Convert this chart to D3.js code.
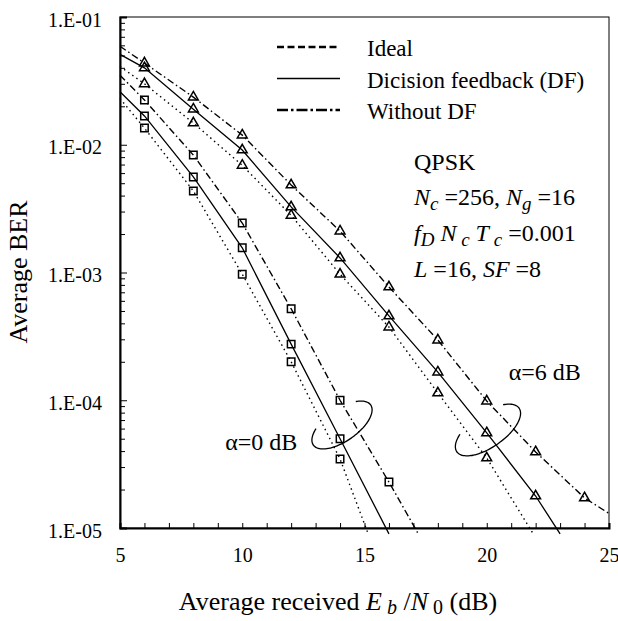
<!DOCTYPE html>
<meta charset="utf-8">
<script src="https://d3js.org/d3.v7.min.js"></script>
<style>
  body { margin: 0; background: #fff; }
  svg text { font-family: "Liberation Serif", "Times New Roman", serif; fill: #000; }
</style>
<div id="chart"></div>
<script>

  // ---- data (BER vs Eb/N0 in dB) ----
  // alpha = 0 dB (square markers)
  var a0IdealX = [5, 6, 8, 10, 12, 14, 15.15];
  var a0IdealY = [0.023, 0.0135, 0.00435, 0.00097, 2.0e-4, 3.47e-5, 9e-6];
  var a0DfX    = [5, 6, 8, 10, 12, 14, 16.0];
  var a0DfY    = [0.026, 0.0168, 0.0056, 0.00156, 2.75e-4, 5.0e-5, 9e-6];
  var a0NoDfX  = [5, 6, 8, 10, 12, 14, 16, 17.2];
  var a0NoDfY  = [0.035, 0.0224, 0.0083, 0.00244, 5.2e-4, 1.0e-4, 2.29e-5, 9e-6];

  // alpha = 6 dB (triangle markers)
  var a6IdealX = [5, 6, 8, 10, 12, 14, 16, 18, 20, 21.9];
  var a6IdealY = [0.041, 0.030, 0.0148, 0.0069, 0.0028, 9.7e-4, 3.74e-4, 1.14e-4, 3.53e-5, 9e-6];
  var a6DfX    = [5, 6, 8, 10, 12, 14, 16, 18, 20, 22, 23.0];
  var a6DfY    = [0.051, 0.040, 0.019, 0.0091, 0.00326, 0.0013, 4.57e-4, 1.66e-4, 5.55e-5, 1.78e-5, 9e-6];
  var a6NoDfX  = [5, 6, 8, 10, 12, 14, 16, 18, 20, 22, 24, 25];
  var a6NoDfY  = [0.059, 0.0436, 0.0236, 0.0119, 0.00484, 0.00211, 7.7e-4, 2.96e-4, 9.86e-5, 3.94e-5, 1.72e-5, 1.3e-5];

  // ticks
  var xTicks = [5, 6, 7, 8, 9, 10, 11, 12, 13, 14, 15, 16, 17, 18, 19, 20, 21, 22, 23, 24, 25];
  var xTickLabels = [5, 10, 15, 20, 25];
  var yMajor = [1e-1, 1e-2, 1e-3, 1e-4, 1e-5];
  var yMajorLabels = ["1.E-01", "1.E-02", "1.E-03", "1.E-04", "1.E-05"];

  var legendNames = ["Ideal", "Dicision feedback (DF)", "Without DF"];

  var serif = "'Liberation Serif', 'Times New Roman', serif";

  // ---- layout ----
  var margin = {top: 17, right: 9, bottom: 93, left: 120},
      width = 618 - margin.left - margin.right,
      height = 621 - margin.top - margin.bottom;

  var svg = d3.select("#chart")
    .append("svg")
      .attr("width", 618)
      .attr("height", 621)
      .style("font-family", serif);

  var g = svg.append("g")
      .attr("transform", "translate(" + margin.left + "," + margin.top + ")");

  var x = d3.scaleLinear().domain([5, 25]).range([0, width]);
  var y = d3.scaleLog().domain([1e-5, 1e-1]).range([height, 0]);

  // frame (top/right thin)
  g.append("rect")
    .attr("width", width)
    .attr("height", height)
    .attr("fill", "none")
    .attr("stroke", "#000")
    .attr("stroke-width", 1);

  // minor y ticks
  var yMinor = [];
  yMajor.slice(1).forEach(function(d) {
    for (var k = 2; k <= 9; k++) yMinor.push(d * k);
  });
  g.append("g")
    .call(d3.axisLeft(y).tickValues(yMinor).tickSize(-5).tickFormat(""))
    .call(function(a) { a.select(".domain").remove(); });

  // major y ticks + labels
  var yAxis = g.append("g")
    .call(d3.axisLeft(y).tickValues(yMajor).tickSize(-7).tickPadding(18)
      .tickFormat(function(d, i) { return yMajorLabels[i]; }))
    .attr("font-family", null);
  yAxis.select(".domain").attr("stroke-width", 2);
  yAxis.selectAll("text")
    .style("font-family", serif)
    .style("font-size", "20px")
    .attr("dy", "0.45em");

  // x axis
  var xAxis = g.append("g")
    .attr("transform", "translate(0," + height + ")")
    .call(d3.axisBottom(x).tickValues(xTicks).tickSize(-5).tickPadding(27)
      .tickFormat(function(d) { return xTickLabels.indexOf(d) >= 0 ? d : ""; }))
    .attr("font-family", null);
  xAxis.select(".domain").attr("stroke-width", 2);
  xAxis.selectAll("text")
    .style("font-family", serif)
    .style("font-size", "20px")
    .attr("dy", "0.35em");

  // ---- curves ----
  var styles = {
    ideal: {dash: "1.5,3.5", w: 1.4},
    df:    {dash: null,      w: 1.3},
    nodf:  {dash: "7,3,1.5,3", w: 1.4}
  };

  var series = [
    {xs: a0IdealX, ys: a0IdealY, type: "ideal", mark: d3.symbolSquare},
    {xs: a0DfX,    ys: a0DfY,    type: "df",    mark: d3.symbolSquare},
    {xs: a0NoDfX,  ys: a0NoDfY,  type: "nodf",  mark: d3.symbolSquare},
    {xs: a6IdealX, ys: a6IdealY, type: "ideal", mark: d3.symbolTriangle},
    {xs: a6DfX,    ys: a6DfY,    type: "df",    mark: d3.symbolTriangle},
    {xs: a6NoDfX,  ys: a6NoDfY,  type: "nodf",  mark: d3.symbolTriangle}
  ];

  var line = d3.line()
    .x(function(d) { return x(d[0]); })
    .y(function(d) { return y(d[1]); });

  series.forEach(function(s) {
    var pts = s.xs.map(function(v, i) { return [v, s.ys[i]]; });
    g.append("path")
      .datum(pts)
      .attr("d", line)
      .attr("fill", "none")
      .attr("stroke", "#000")
      .attr("stroke-width", styles[s.type].w)
      .attr("stroke-dasharray", styles[s.type].dash);

    // markers on the simulated points (not on the line ends)
    var size = s.mark === d3.symbolSquare ? 56 : 42;
    g.selectAll(null)
      .data(pts.slice(1, pts.length - 1))
      .enter()
      .append("path")
        .attr("d", d3.symbol().type(s.mark).size(size))
        .attr("transform", function(d) { return "translate(" + x(d[0]) + "," + y(d[1]) + ")"; })
        .attr("fill", "none")
        .attr("stroke", "#000")
        .attr("stroke-width", 1.5);
  });

  // ---- alpha annotations (open ellipse arcs + label) ----
  var annots = [
    {cx: 14.08, cy: 6.4e-5,  a: 35, b: 16, label: "\u03b1=0 dB", lx: 9.3,  ly: 4.08e-5},
    {cx: 20.05, cy: 5.85e-5, a: 38, b: 17, label: "\u03b1=6 dB", lx: 20.9, ly: 1.44e-4}
  ];
  var phi = -35 * Math.PI / 180;
  annots.forEach(function(an) {
    var cx = x(an.cx), cy = y(an.cy), pts = [];
    for (var t = -45; t <= 228; t += 3) {
      var r = t * Math.PI / 180,
          u = an.a * Math.cos(r), v = an.b * Math.sin(r);
      pts.push([cx + u * Math.cos(phi) - v * Math.sin(phi),
                cy + u * Math.sin(phi) + v * Math.cos(phi)]);
    }
    g.append("path")
      .attr("d", d3.line().curve(d3.curveBasis)(pts))
      .attr("fill", "none")
      .attr("stroke", "#000")
      .attr("stroke-width", 1.3);
    g.append("text")
      .attr("x", x(an.lx))
      .attr("y", y(an.ly))
      .style("font-size", "24px")
      .text(an.label);
  });

  // ---- legend ----
  var legendDash = [{dash: "7,3.5", w: 2.4}, {dash: null, w: 1.3}, {dash: "11,3,2.5,3", w: 2.4}];
  legendNames.forEach(function(name, i) {
    var ly = 47 + i * 31.5;
    svg.append("line")
      .attr("x1", 277).attr("x2", 340)
      .attr("y1", ly).attr("y2", ly)
      .attr("stroke", "#000")
      .attr("stroke-width", legendDash[i].w)
      .attr("stroke-dasharray", legendDash[i].dash);
    svg.append("text")
      .attr("x", 367)
      .attr("y", ly + 9)
      .style("font-size", "23px")
      .text(name);
  });

  // ---- parameter text block ----
  var info = svg.append("g").style("font-size", "24px");
  info.append("text").attr("x", 414).attr("y", 170).text("QPSK");

  function addRich(yPos, parts) {
    var t = info.append("text").attr("x", 414).attr("y", yPos);
    parts.forEach(function(p) {
      var s = t.append("tspan").text(p.t);
      if (p.i) s.style("font-style", "italic");
      if (p.sub) s.style("font-size", "19px").attr("dy", 5);
      if (p.up) s.attr("dy", -5);
    });
  }
  addRich(205, [
    {t: "N", i: true}, {t: "c", i: true, sub: true}, {t: " =256, ", up: true},
    {t: "N", i: true}, {t: "g", i: true, sub: true}, {t: " =16", up: true}
  ]);
  addRich(241, [
    {t: "f", i: true}, {t: "D", i: true, sub: true}, {t: " N", i: true, up: true},
    {t: " c", i: true, sub: true}, {t: " T", i: true, up: true},
    {t: " c", i: true, sub: true}, {t: " =0.001", up: true}
  ]);
  addRich(277, [
    {t: "L", i: true}, {t: " =16, "}, {t: "SF", i: true}, {t: " =8"}
  ]);

  // ---- axis titles ----
  svg.append("text")
    .attr("transform", "translate(27,272) rotate(-90)")
    .attr("text-anchor", "middle")
    .style("font-size", "26px")
    .text("Average BER");

  var xt = svg.append("text")
    .attr("x", 338)
    .attr("y", 610)
    .attr("text-anchor", "middle")
    .style("font-size", "26px");
  xt.append("tspan").text("Average received ");
  xt.append("tspan").text("E").style("font-style", "italic");
  xt.append("tspan").text(" b").style("font-style", "italic").style("font-size", "20px").attr("dy", 4);
  xt.append("tspan").text(" /").attr("dy", -4);
  xt.append("tspan").text("N").style("font-style", "italic");
  xt.append("tspan").text(" 0").style("font-size", "20px").attr("dy", 4);
  xt.append("tspan").text(" (dB)").attr("dy", -4);

</script>
